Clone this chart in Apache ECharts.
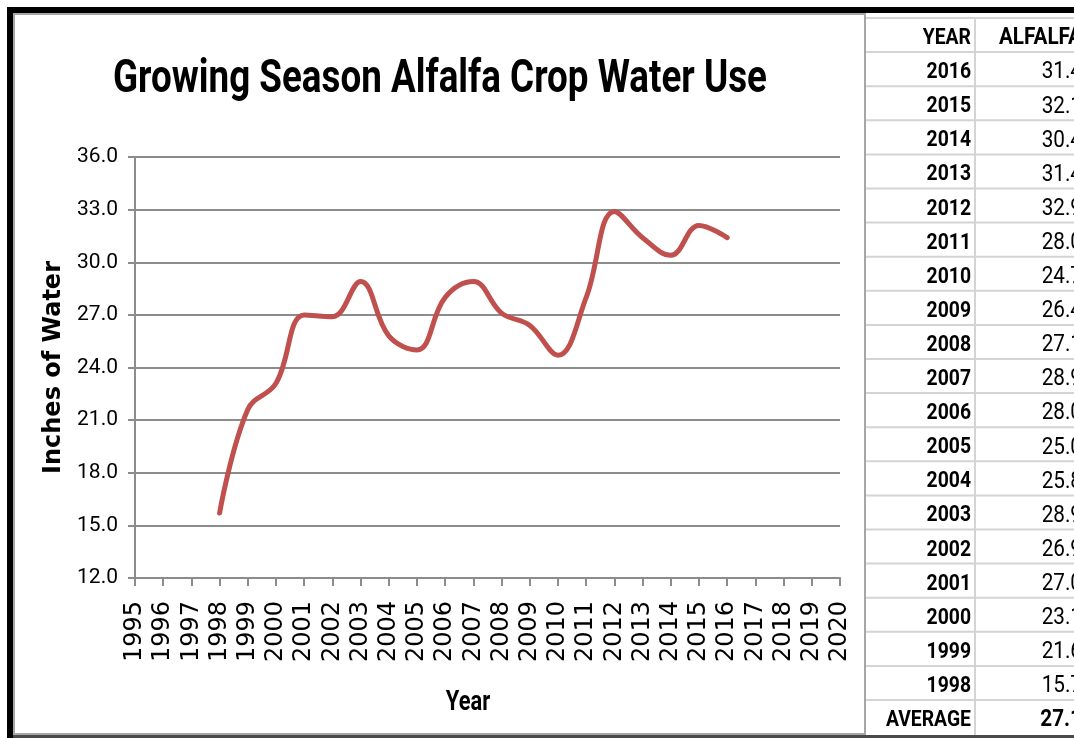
<!DOCTYPE html>
<html>
<head>
<meta charset="utf-8">
<title>Growing Season Alfalfa Crop Water Use</title>
<script src="https://cdn.jsdelivr.net/npm/echarts@6/dist/echarts.min.js"></script>
<style>
  html, body { margin: 0; padding: 0; background: #ffffff; }
  #chart { width: 1074px; height: 738px; }
</style>
</head>
<body>
<div id="chart"></div>
<script>
// Seasonal crop water use for alfalfa, inches
const years = [1998, 1999, 2000, 2001, 2002, 2003, 2004, 2005, 2006, 2007,
               2008, 2009, 2010, 2011, 2012, 2013, 2014, 2015, 2016];
const alfalfa = [15.7, 21.6, 23.1, 27.0, 26.9, 28.9, 25.8, 25.0, 28.0, 28.9,
                 27.1, 26.4, 24.7, 28.0, 32.9, 31.4, 30.4, 32.1, 31.4];
const tableHeader = ['YEAR', 'ALFALFA'];
const averageLabel = 'AVERAGE';
const chartTitle = 'Growing Season Alfalfa Crop Water Use';
const xTitle = 'Year';
const yTitle = 'Inches of Water';

const SANS = 'Roboto, "Noto Sans", sans-serif';
const WIDE = '"DejaVu Sans", Verdana, sans-serif';

const average = alfalfa.reduce((a, b) => a + b, 0) / alfalfa.length;

// Table rows: newest year first, then the average
const rows = [[tableHeader[0], tableHeader[1], true]];
for (let i = years.length - 1; i >= 0; i--) {
  rows.push([String(years[i]), alfalfa[i].toFixed(1), false]);
}
rows.push([averageLabel, average.toFixed(1), true]);

const tableTop = 18;
const rowH = 34.1;
const tableLeft = 866;
const colSplit = 975;

const graphics = [];
// outer frame
graphics.push({ type: 'rect', shape: { x: 7, y: 7, width: 1067, height: 6 }, style: { fill: '#000' }, z: 10 });
graphics.push({ type: 'rect', shape: { x: 7, y: 7, width: 6, height: 731 }, style: { fill: '#000' }, z: 10 });
graphics.push({ type: 'rect', shape: { x: 13, y: 735, width: 1061, height: 3 }, style: { fill: '#4a4a4a' }, z: 10 });
// chart box
graphics.push({ type: 'rect', shape: { x: 14, y: 14, width: 851, height: 720 },
  style: { fill: null, stroke: '#a6a6a6', lineWidth: 2 }, z: 9 });

// condensed title and x-axis caption
graphics.push({ type: 'text', x: 440, y: 80, scaleX: 0.8,
  style: { text: chartTitle, fill: '#000', font: 'bold 46px ' + SANS, align: 'center', verticalAlign: 'middle' }, z: 6 });
graphics.push({ type: 'text', x: 468, y: 703, scaleX: 0.78,
  style: { text: xTitle, fill: '#000', font: 'bold 28px ' + SANS, align: 'center', verticalAlign: 'middle' }, z: 6 });

// table grid
rows.forEach((r, i) => {
  const y = tableTop + rowH * (i + 1);
  if (i < rows.length - 1) {
    graphics.push({ type: 'line', shape: { x1: tableLeft, y1: y, x2: 1074, y2: y },
      style: { stroke: '#d4d4d4', lineWidth: 2 }, z: 5 });
  }
});
graphics.push({ type: 'line', shape: { x1: tableLeft, y1: tableTop, x2: 1074, y2: tableTop },
  style: { stroke: '#d4d4d4', lineWidth: 2 }, z: 5 });
graphics.push({ type: 'line', shape: { x1: colSplit, y1: tableTop, x2: colSplit, y2: 735 },
  style: { stroke: '#d4d4d4', lineWidth: 2 }, z: 5 });

// table text
rows.forEach((r, i) => {
  const cy = tableTop + rowH * i + rowH / 2 + 3.5;
  graphics.push({ type: 'text', x: 971, y: cy, scaleX: 0.88,
    style: { text: r[0], fill: '#000', font: 'bold 22px ' + SANS, align: 'right', verticalAlign: 'middle' }, z: 6 });
  graphics.push({ type: 'text', x: 1082, y: cy, scaleX: 0.9,
    style: { text: r[1], fill: '#000', font: (r[2] ? 'bold ' : '') + '23px ' + SANS, align: 'right', verticalAlign: 'middle' }, z: 6 });
});

const chart = echarts.init(document.getElementById('chart'), null, { renderer: 'canvas' });
chart.setOption({
  backgroundColor: '#ffffff',
  animation: false,
  grid: { left: 135, right: 234, top: 157, bottom: 160 },
  xAxis: {
    type: 'value',
    min: 1995, max: 2020, interval: 1,
    axisLine: { lineStyle: { color: '#8c8c8c', width: 2 } },
    axisTick: { show: true, length: 8, lineStyle: { color: '#8c8c8c', width: 2 } },
    axisLabel: { rotate: 90, margin: 23, fontFamily: WIDE, fontSize: 24, color: '#000',
      formatter: v => String(v) },
    splitLine: { show: false }
  },
  yAxis: {
    type: 'value',
    min: 12, max: 36, interval: 3,
    name: yTitle, nameLocation: 'middle', nameGap: 66, nameRotate: 90,
    nameTextStyle: { fontFamily: WIDE, fontWeight: 'bold', fontSize: 24, color: '#000' },
    axisLine: { show: true, lineStyle: { color: '#8c8c8c', width: 2 } },
    axisTick: { show: true, length: 7, lineStyle: { color: '#8c8c8c', width: 2 } },
    axisLabel: { margin: 17, fontFamily: SANS, fontSize: 21, color: '#000',
      formatter: v => v.toFixed(1) },
    splitLine: { show: true, lineStyle: { color: '#8c8c8c', width: 2 } }
  },
  series: [{
    type: 'line',
    name: 'ALFALFA',
    data: years.map((y, i) => [y, alfalfa[i]]),
    smooth: 0.4,
    symbol: 'none',
    lineStyle: { color: '#c0504d', width: 5, cap: 'round' }
  }],
  graphic: graphics
});
</script>
</body>
</html>
